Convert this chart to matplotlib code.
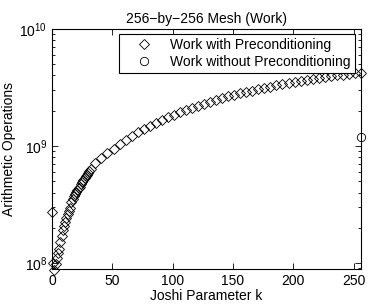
import matplotlib
matplotlib.use("Agg")
import matplotlib.pyplot as plt

plt.rcParams['font.family'] = ['Liberation Sans', 'DejaVu Sans']
plt.rcParams['mathtext.default'] = 'regular'

# Joshi parameter k and work (arithmetic operations) with preconditioning
k_pre = [0, 1, 2, 3, 4, 5, 6, 7, 8, 9, 10, 11, 12, 13, 14, 15, 16, 17, 18, 19,
         20, 21, 22, 23, 24, 25, 26, 27, 28, 29, 30, 31, 32,
         36, 41, 46, 51, 56, 61, 66, 71, 76, 81, 86, 91, 96, 101, 106, 111,
         116, 121, 126, 131, 136, 141, 146, 151, 156, 161, 166, 171, 176,
         181, 186, 191, 196, 201, 206, 211, 216, 221, 226, 231, 236, 241,
         246, 251, 256]
work_pre = [2.75e8, 1.0e8, 8.8e7, 9.8e7, 1.1e8, 1.22e8, 1.33e8, 1.5e8, 1.7e8,
            1.9e8, 2.07e8, 2.25e8, 2.42e8, 2.6e8, 2.8e8, 2.95e8, 3.3e8,
            3.55e8, 3.75e8, 3.9e8, 4.05e8, 4.2e8, 4.35e8, 4.5e8, 4.7e8,
            4.9e8, 5.1e8, 5.3e8, 5.5e8, 5.7e8, 5.9e8, 6.1e8, 6.3e8,
            7.1e8, 7.9e8, 8.7e8, 9.5e8, 1.04e9, 1.13e9, 1.22e9, 1.31e9,
            1.40e9, 1.49e9, 1.58e9, 1.67e9, 1.76e9, 1.85e9, 1.94e9, 2.03e9,
            2.12e9, 2.21e9, 2.30e9, 2.39e9, 2.48e9, 2.57e9, 2.65e9, 2.73e9,
            2.81e9, 2.89e9, 2.97e9, 3.05e9, 3.13e9, 3.21e9, 3.29e9, 3.37e9,
            3.45e9, 3.52e9, 3.59e9, 3.66e9, 3.73e9, 3.80e9, 3.87e9, 3.94e9,
            4.00e9, 4.06e9, 4.12e9, 4.17e9, 4.22e9]

# without preconditioning: single run
k_nopre = [256]
work_nopre = [1.19e9]

fig = plt.figure(figsize=(3.74, 3.07), dpi=100)
ax = fig.add_axes([0.139, 0.124, 0.826, 0.782])

ax.semilogy(k_pre, work_pre, 'D', ms=5.3, mfc='none', mec='black', mew=0.6,
            clip_on=False, label='Work with Preconditioning')
ax.semilogy(k_nopre, work_nopre, 'o', ms=6, mfc='none', mec='black', mew=0.6,
            clip_on=False, label='Work without Preconditioning')

ax.set_xlim(0, 256)
ax.set_ylim(8.9e7, 1e10)
ax.set_xticks([0, 50, 100, 150, 200, 250])
ax.tick_params(which='both', direction='in', top=True, right=True,
               labelsize=10, width=0.6)
ax.tick_params(which='major', length=4)
ax.tick_params(which='minor', length=2)
for s in ax.spines.values():
    s.set_linewidth(0.8)

ax.set_title('256\u2212by\u2212256 Mesh (Work)', fontsize=10, pad=4)
ax.set_xlabel('Joshi Parameter k', fontsize=10, labelpad=1)
ax.set_ylabel('Arithmetic Operations', fontsize=10, labelpad=2)

leg = ax.legend(loc='upper right', bbox_to_anchor=(0.98, 0.98), fontsize=10,
                fancybox=False, framealpha=1, edgecolor='black',
                borderpad=0.3, labelspacing=0.2, handlelength=3.0,
                handletextpad=0.4, borderaxespad=0)
leg.get_frame().set_linewidth(0.8)

fig.savefig('out.png', dpi=100)
